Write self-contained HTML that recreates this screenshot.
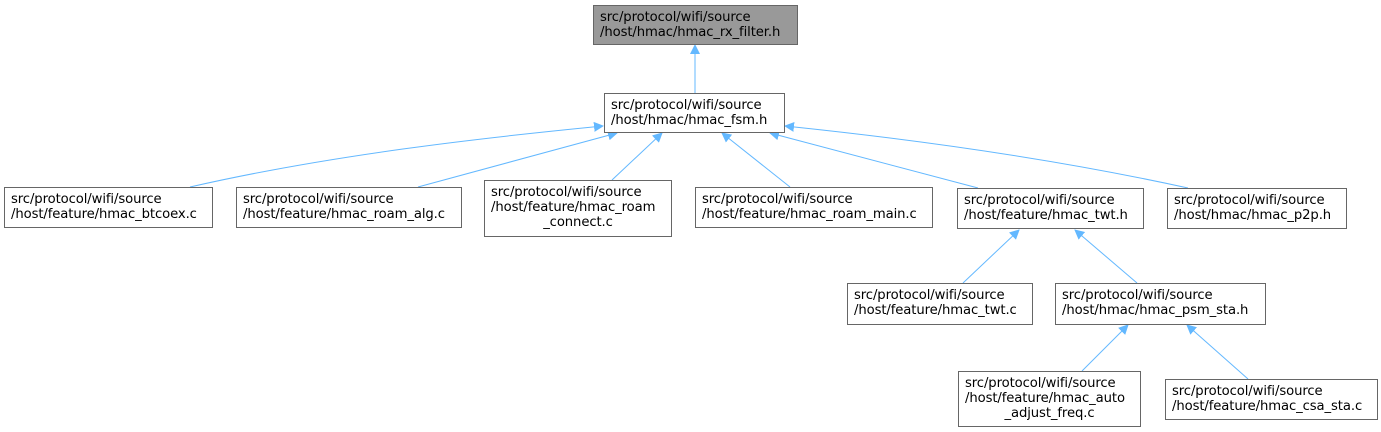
<!DOCTYPE html>
<html><head><meta charset="utf-8"><style>
body{margin:0;width:1381px;height:432px;background:#fff;overflow:hidden;position:relative;font-family:"DejaVu Sans","Liberation Sans",sans-serif;}
.n{position:absolute;box-sizing:border-box;border:1px solid #666;background:#fff;font-size:13.2px;line-height:15px;color:#000;padding:4px 6px;white-space:nowrap;letter-spacing:-0.1px}
.n .m{text-align:center;display:block}
svg{position:absolute;left:0;top:0}
</style></head><body>
<svg width="1381" height="432">
<defs><marker id="a" markerWidth="10" markerHeight="10" refX="9" refY="5" orient="auto" markerUnits="userSpaceOnUse"><path d="M0,0 L10,5 L0,10 z" fill="#63b8ff"/></marker></defs>
<g stroke="#63b8ff" stroke-width="1" fill="none" marker-end="url(#a)">
<line x1="695" y1="93" x2="695" y2="45"/>
<path d="M190,187 C330,155 480,138 603,126"/>
<line x1="418" y1="187" x2="617" y2="133"/>
<line x1="612" y1="180" x2="662" y2="133"/>
<line x1="790" y1="187" x2="722" y2="133"/>
<line x1="978" y1="188" x2="770" y2="133"/>
<path d="M1188,188 C1060,160 920,140 785,126"/>
<line x1="963" y1="283" x2="1019" y2="230"/>
<line x1="1137" y1="283" x2="1075" y2="230"/>
<line x1="1082" y1="371" x2="1128" y2="325"/>
<line x1="1248" y1="379" x2="1187" y2="325"/>
</g></svg>
<div class="n" style="left:593px;top:5px;width:205px;height:40px;background:#999">src/protocol/wifi/source<br>/host/hmac/hmac_rx_filter.h</div>
<div class="n" style="left:604px;top:93px;width:181px;height:40px">src/protocol/wifi/source<br>/host/hmac/hmac_fsm.h</div>
<div class="n" style="left:4px;top:187px;width:209px;height:41px">src/protocol/wifi/source<br>/host/feature/hmac_btcoex.c</div>
<div class="n" style="left:236px;top:187px;width:226px;height:41px">src/protocol/wifi/source<br>/host/feature/hmac_roam_alg.c</div>
<div class="n" style="left:484px;top:180px;width:188px;height:57px">src/protocol/wifi/source<br>/host/feature/hmac_roam<span class="m">_connect.c</span></div>
<div class="n" style="left:695px;top:187px;width:238px;height:41px">src/protocol/wifi/source<br>/host/feature/hmac_roam_main.c</div>
<div class="n" style="left:957px;top:188px;width:187px;height:41px">src/protocol/wifi/source<br>/host/feature/hmac_twt.h</div>
<div class="n" style="left:1167px;top:188px;width:180px;height:41px">src/protocol/wifi/source<br>/host/hmac/hmac_p2p.h</div>
<div class="n" style="left:847px;top:283px;width:186px;height:42px">src/protocol/wifi/source<br>/host/feature/hmac_twt.c</div>
<div class="n" style="left:1055px;top:283px;width:211px;height:42px">src/protocol/wifi/source<br>/host/hmac/hmac_psm_sta.h</div>
<div class="n" style="left:958px;top:371px;width:183px;height:56px">src/protocol/wifi/source<br>/host/feature/hmac_auto<span class="m">_adjust_freq.c</span></div>
<div class="n" style="left:1165px;top:379px;width:213px;height:41px">src/protocol/wifi/source<br>/host/feature/hmac_csa_sta.c</div>
</body></html>
